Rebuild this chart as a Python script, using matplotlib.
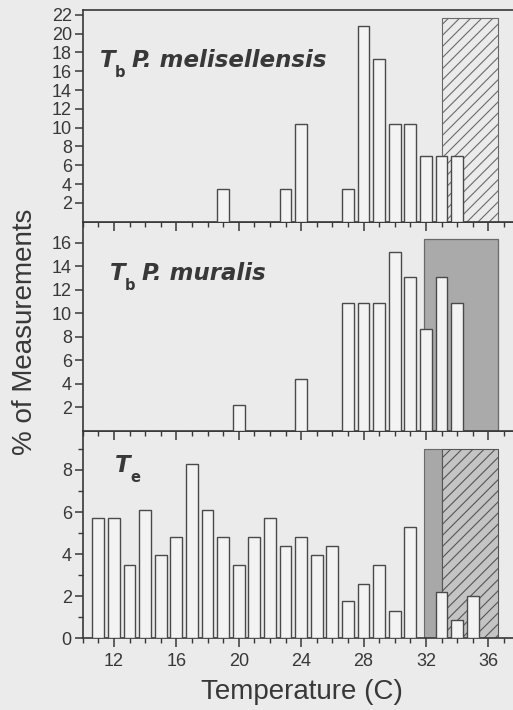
import matplotlib.pyplot as plt
from matplotlib.patches import Rectangle
from matplotlib.ticker import MultipleLocator

# temperature classes (C) and % of measurements
mel_temp = [19, 23, 24, 27, 28, 29, 30, 31, 32, 33, 34]
mel_pct = [3.5, 3.5, 10.4, 3.5, 20.8, 17.3, 10.4, 10.4, 7.0, 7.0, 7.0]

mur_temp = [20, 24, 27, 28, 29, 30, 31, 32, 33, 34]
mur_pct = [2.2, 4.4, 10.9, 10.9, 10.9, 15.2, 13.1, 8.7, 13.1, 10.9]

te_temp = [11, 12, 13, 14, 15, 16, 17, 18, 19, 20, 21, 22, 23, 24, 25, 26,
           27, 28, 29, 30, 31, 33, 34, 35]
te_pct = [5.7, 5.7, 3.5, 6.1, 3.95, 4.8, 8.3, 6.1, 4.8, 3.5, 4.8, 5.7, 4.4, 4.8,
          3.95, 4.4, 1.75, 2.6, 3.5, 1.3, 5.3, 2.2, 0.88, 2.0]

# preferred / critical ranges drawn as shaded boxes
mel_hatch = (33.05, 36.6, 21.6)
mur_gray = (31.85, 36.6, 16.3)
te_gray = (31.9, 33.0, 9.0)
te_hatch = (33.0, 36.6, 9.0)

W, H = 513, 710
bg = '#ebebeb'
ink = '#383838'
plt.rcParams['font.family'] = ['Liberation Sans', 'DejaVu Sans']
plt.rcParams['hatch.linewidth'] = 0.8

fig = plt.figure(figsize=(W / 100, H / 100), dpi=100, facecolor=bg)


def px(x0, y0, x1, y1):
    return [x0 / W, 1 - y1 / H, (x1 - x0) / W, (y1 - y0) / H]


def panel(pos, ymax, ystep, yminor, bottom):
    ax = fig.add_axes(pos, facecolor=bg)
    ax.set_xlim(10, 38)
    ax.set_ylim(0, ymax)
    ax.xaxis.set_major_locator(MultipleLocator(4))
    ax.xaxis.set_minor_locator(MultipleLocator(1))
    ax.yaxis.set_major_locator(MultipleLocator(ystep))
    if yminor:
        ax.yaxis.set_minor_locator(MultipleLocator(yminor))
    ax.tick_params(axis='x', which='major', direction='out', length=6.5, width=1.1,
                   color=ink, labelsize=13, labelcolor=ink, pad=4)
    ax.tick_params(axis='x', which='minor', direction='out', length=3.6, width=1.0,
                   color=ink)
    ax.tick_params(axis='y', which='major', direction='out', length=5.8, width=1.1,
                   color=ink, labelsize=13, labelcolor=ink, pad=2)
    ax.tick_params(axis='y', which='minor', direction='out', length=3.6, width=1.0,
                   color=ink)
    if not bottom:
        ax.tick_params(axis='x', labelbottom=False)
    for s in ['top', 'left', 'bottom']:
        ax.spines[s].set_color(ink)
        ax.spines[s].set_linewidth(1.2)
    ax.spines['right'].set_visible(False)
    return ax


def bars(ax, t, v):
    ax.bar(t, v, width=0.75, color='#f3f3f3', edgecolor='#4a4a4a', linewidth=1.0,
           zorder=3)


def label(x, y, main, sub, rest):
    fig.text(x / W, 1 - y / H, main, fontsize=16.5, fontweight='bold', style='italic',
             family='DejaVu Sans', color=ink)
    fig.text((x + 15) / W, 1 - (y + 10) / H, sub, fontsize=10.5, fontweight='bold',
             family='DejaVu Sans', color=ink)
    if rest:
        fig.text((x + 32) / W, 1 - y / H, rest, fontsize=16.5, fontweight='bold',
                 style='italic', family='DejaVu Sans', color=ink)


# bottom panel first so ticks of upper panels stay on top
ax3 = panel(px(82.7, 430.8, 519.5, 638.3), 9.86, 2, 1, True)
ax3.add_patch(Rectangle((te_gray[0], 0), te_gray[1] - te_gray[0], te_gray[2],
                        facecolor='#a8a8a8', edgecolor='#6a6a6a', linewidth=0.8, zorder=1))
ax3.add_patch(Rectangle((te_hatch[0], 0), te_hatch[1] - te_hatch[0], te_hatch[2],
                        facecolor='#c4c4c4', edgecolor='#555555', hatch='///',
                        linewidth=0.8, zorder=1))
bars(ax3, te_temp, te_pct)
ax3.set_xticks([12, 16, 20, 24, 28, 32, 36])
ax3.set_yticks([0, 2, 4, 6, 8])

ax2 = panel(px(82.7, 221.8, 519.5, 430.8), 17.8, 2, None, False)
ax2.add_patch(Rectangle((mur_gray[0], 0), mur_gray[1] - mur_gray[0], mur_gray[2],
                        facecolor='#aaaaaa', edgecolor='#6a6a6a', linewidth=0.9, zorder=1))
bars(ax2, mur_temp, mur_pct)
ax2.set_yticks(range(2, 17, 2))

ax1 = panel(px(82.7, 10, 519.5, 221.8), 22.5, 2, None, False)
ax1.add_patch(Rectangle((mel_hatch[0], 0), mel_hatch[1] - mel_hatch[0], mel_hatch[2],
                        facecolor=bg, edgecolor='#6a6a6a', hatch='///',
                        linewidth=0.8, zorder=1))
bars(ax1, mel_temp, mel_pct)
ax1.set_yticks(range(2, 23, 2))

label(100, 67, 'T', 'b', 'P. melisellensis')
label(110, 280, 'T', 'b', 'P. muralis')
label(115, 472, 'T', 'e', '')

fig.text(25 / W, 1 - 332 / H, '% of Measurements', rotation=90, ha='center',
         va='center', fontsize=20, color=ink)
fig.text(302 / W, 1 - 692 / H, 'Temperature (C)', ha='center', va='center',
         fontsize=20, color=ink)

fig.savefig('out.png', dpi=100, facecolor=bg)
